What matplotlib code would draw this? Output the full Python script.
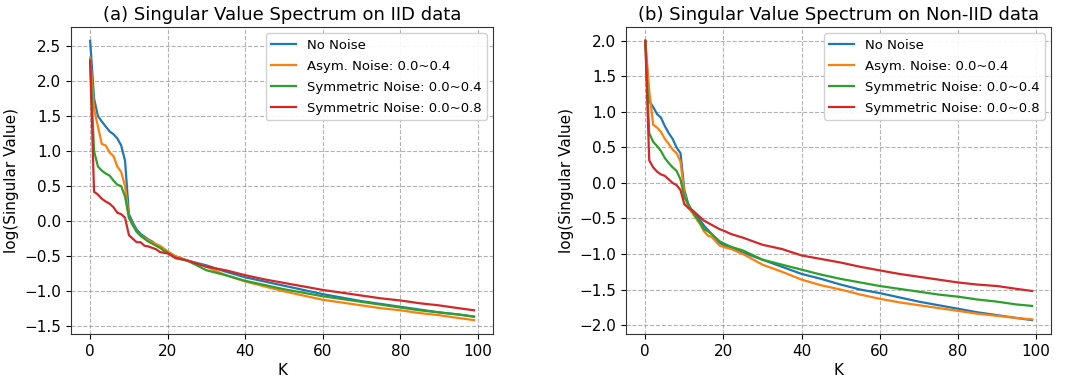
import numpy as np
import matplotlib
matplotlib.use("Agg")
import matplotlib.pyplot as plt

# K positions the values were read at
k = [0, 1, 2, 3, 4, 5, 6, 7, 8, 9, 10, 11, 12, 13, 14, 15, 16, 17, 18, 19, 20,
     22, 25, 30, 35, 40, 45, 50, 55, 60, 65, 70, 75, 80, 85, 90, 95, 99]

labels = ["No Noise", "Asym. Noise: 0.0~0.4",
          "Symmetric Noise: 0.0~0.4", "Symmetric Noise: 0.0~0.8"]

# (a) IID data
iid_none = [2.57, 1.75, 1.50, 1.42, 1.35, 1.28, 1.24, 1.18, 1.08, 0.86, 0.10, -0.02, -0.12,
            -0.18, -0.22, -0.26, -0.29, -0.33, -0.36, -0.40, -0.44,
            -0.50, -0.56, -0.63, -0.72, -0.80, -0.86, -0.92, -0.98, -1.04, -1.09,
            -1.14, -1.18, -1.22, -1.26, -1.30, -1.33, -1.36]
iid_asym = [2.33, 1.60, 1.35, 1.10, 1.08, 0.98, 0.93, 0.78, 0.70, 0.50, 0.05, -0.05, -0.15,
            -0.20, -0.24, -0.27, -0.30, -0.33, -0.35, -0.39, -0.43,
            -0.50, -0.56, -0.65, -0.77, -0.86, -0.93, -1.00, -1.06, -1.12, -1.16,
            -1.20, -1.24, -1.27, -1.31, -1.34, -1.38, -1.41]
iid_sym4 = [2.30, 1.00, 0.78, 0.72, 0.68, 0.65, 0.58, 0.52, 0.50, 0.35, 0.05, -0.06, -0.15,
            -0.21, -0.25, -0.29, -0.32, -0.35, -0.38, -0.42, -0.45,
            -0.53, -0.56, -0.70, -0.77, -0.85, -0.91, -0.97, -1.02, -1.07, -1.11,
            -1.15, -1.19, -1.23, -1.27, -1.30, -1.33, -1.36]
iid_sym8 = [2.28, 0.42, 0.38, 0.32, 0.28, 0.25, 0.20, 0.12, 0.10, 0.05, -0.20, -0.25, -0.30,
            -0.30, -0.35, -0.36, -0.38, -0.40, -0.44, -0.45, -0.46,
            -0.52, -0.56, -0.65, -0.70, -0.77, -0.83, -0.88, -0.93, -0.98, -1.02,
            -1.06, -1.10, -1.13, -1.17, -1.20, -1.24, -1.27]

# (b) Non-IID data
non_none = [2.00, 1.15, 1.07, 0.97, 0.92, 0.80, 0.70, 0.62, 0.50, 0.42, -0.10, -0.30, -0.40,
            -0.45, -0.52, -0.60, -0.66, -0.72, -0.78, -0.84, -0.87,
            -0.92, -0.98, -1.08, -1.18, -1.28, -1.35, -1.43, -1.50, -1.55, -1.61,
            -1.67, -1.72, -1.77, -1.82, -1.86, -1.90, -1.93]
non_asym = [2.00, 1.30, 0.82, 0.78, 0.72, 0.62, 0.55, 0.47, 0.42, 0.30, -0.15, -0.35, -0.42,
            -0.50, -0.58, -0.68, -0.74, -0.76, -0.82, -0.88, -0.90,
            -0.93, -1.00, -1.15, -1.25, -1.36, -1.44, -1.50, -1.57, -1.63, -1.68,
            -1.72, -1.76, -1.80, -1.84, -1.87, -1.90, -1.92]
non_sym4 = [2.00, 0.70, 0.58, 0.52, 0.45, 0.35, 0.28, 0.22, 0.17, 0.05, -0.20, -0.30, -0.40,
            -0.48, -0.56, -0.65, -0.68, -0.72, -0.77, -0.82, -0.85,
            -0.90, -0.95, -1.08, -1.15, -1.22, -1.29, -1.35, -1.40, -1.45, -1.49,
            -1.53, -1.57, -1.60, -1.64, -1.67, -1.71, -1.73]
non_sym8 = [2.00, 0.32, 0.22, 0.16, 0.12, 0.10, 0.05, 0.00, -0.03, -0.10, -0.30, -0.35, -0.38,
            -0.43, -0.48, -0.53, -0.56, -0.59, -0.62, -0.65, -0.67,
            -0.72, -0.77, -0.87, -0.93, -1.02, -1.07, -1.12, -1.18, -1.23, -1.28,
            -1.32, -1.36, -1.40, -1.43, -1.45, -1.49, -1.52]

titles = ["(a) Singular Value Spectrum on IID data",
          "(b) Singular Value Spectrum on Non-IID data"]
panels = [[iid_none, iid_asym, iid_sym4, iid_sym8],
          [non_none, non_asym, non_sym4, non_sym8]]
colors = ["#1f77b4", "#ff7f0e", "#2ca02c", "#d62728"]

fig = plt.figure(figsize=(10.8, 3.84), dpi=100)
rects = [[0.0657, 0.130, 0.391, 0.80], [0.5796, 0.130, 0.394, 0.80]]

for rect, title, series in zip(rects, titles, panels):
    ax = fig.add_axes(rect)
    for ys, lab, c in zip(series, labels, colors):
        ax.plot(k, ys, color=c, lw=1.6, label=lab)
    ax.set_title(title, fontsize=13, pad=5)
    ax.set_xlabel("K", fontsize=11, labelpad=3)
    ax.set_ylabel("log(Singular Value)", fontsize=11, labelpad=4)
    ax.set_xticks([0, 20, 40, 60, 80, 100])
    ax.tick_params(labelsize=11)
    ax.grid(True, linestyle="--", color="gray", alpha=0.6, lw=0.8)
    ax.legend(loc="upper right", fontsize=9.5, framealpha=0.9,
              labelspacing=0.6, handlelength=1.9)
    for s in ax.spines.values():
        s.set_color("#333333")

fig.savefig("out.png", dpi=100)
